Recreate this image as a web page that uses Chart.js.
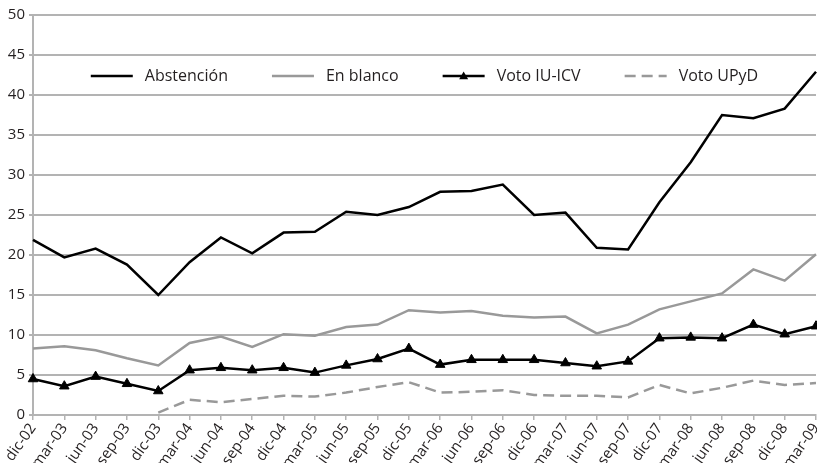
<!DOCTYPE html>
<html>
<head>
<meta charset="utf-8">
<script src="https://cdn.jsdelivr.net/npm/chart.js@4.4.0/dist/chart.umd.min.js"></script>
<style>
  html, body { margin: 0; padding: 0; background: #fff; }
  #wrap { width: 817px; height: 463px; }
</style>
</head>
<body>
<div id="wrap"><canvas id="votoChart" width="817" height="463"></canvas></div>
<script>
// Trimestres
const quarters = ['dic-02', 'mar-03', 'jun-03', 'sep-03', 'dic-03', 'mar-04', 'jun-04', 'sep-04', 'dic-04',
  'mar-05', 'jun-05', 'sep-05', 'dic-05', 'mar-06', 'jun-06', 'sep-06', 'dic-06', 'mar-07', 'jun-07',
  'sep-07', 'dic-07', 'mar-08', 'jun-08', 'sep-08', 'dic-08', 'mar-09'];

const abstencion = [21.9, 19.7, 20.8, 18.8, 15.0, 19.1, 22.2, 20.2, 22.8, 22.9, 25.4, 25.0, 26.0,
  27.9, 28.0, 28.8, 25.0, 25.3, 20.9, 20.7, 26.6, 31.6, 37.5, 37.1, 38.3, 42.9];

const enBlanco = [8.3, 8.6, 8.1, 7.1, 6.2, 9.0, 9.8, 8.5, 10.1, 9.9, 11.0, 11.3, 13.1,
  12.8, 13.0, 12.4, 12.2, 12.3, 10.2, 11.3, 13.2, 14.2, 15.2, 18.2, 16.8, 20.1];

const votoIU = [4.5, 3.6, 4.8, 3.9, 3.0, 5.6, 5.9, 5.6, 5.9, 5.3, 6.2, 7.0, 8.3,
  6.3, 6.9, 6.9, 6.9, 6.5, 6.1, 6.7, 9.6, 9.7, 9.6, 11.3, 10.1, 11.1];

// UPyD empieza en dic-03
const votoUPyD = [null, null, null, null, 0.3, 1.9, 1.6, 2.0, 2.4, 2.3, 2.8, 3.5, 4.1,
  2.8, 2.9, 3.1, 2.5, 2.4, 2.4, 2.2, 3.75, 2.7, 3.4, 4.3, 3.75, 4.0];

const yTicks = [0, 5, 10, 15, 20, 25, 30, 35, 40, 45, 50];

const FONT = "'Open Sans', sans-serif";
const TEXT = '#231f20';
const GRID = '#b3b3b3';

// legend drawn inside the plot area, centred, like the original
const insideLegend = {
  id: 'insideLegend',
  afterDatasetsDraw(chart) {
    const ctx = chart.ctx;
    const area = chart.chartArea;
    const lineLen = 42, gapText = 12, gapItem = 44;
    ctx.save();
    ctx.font = '16px ' + FONT;
    const items = chart.data.datasets.map(ds => ({ ds, w: ctx.measureText(ds.label).width }));
    const total = items.reduce((s, it) => s + lineLen + gapText + it.w, 0) + gapItem * (items.length - 1);
    let x = (area.left + area.right) / 2 - total / 2;
    const y = 76;
    items.forEach(({ ds, w }) => {
      ctx.strokeStyle = ds.borderColor;
      ctx.lineWidth = ds.borderWidth;
      ctx.setLineDash(ds.borderDash || []);
      ctx.beginPath();
      ctx.moveTo(x, y);
      ctx.lineTo(x + lineLen, y);
      ctx.stroke();
      ctx.setLineDash([]);
      if (ds.pointRadius > 0) {
        const cx = x + lineLen / 2, r = 4.5;
        ctx.fillStyle = ds.borderColor;
        ctx.beginPath();
        ctx.moveTo(cx, y - r);
        ctx.lineTo(cx + r, y + r * 0.7);
        ctx.lineTo(cx - r, y + r * 0.7);
        ctx.closePath();
        ctx.fill();
      }
      ctx.fillStyle = TEXT;
      ctx.textBaseline = 'middle';
      ctx.textAlign = 'left';
      ctx.fillText(ds.label, x + lineLen + gapText, y);
      x += lineLen + gapText + w + gapItem;
    });
    ctx.restore();
  }
};

new Chart(document.getElementById('votoChart'), {
  type: 'line',
  data: {
    labels: quarters,
    datasets: [
      {
        label: 'Abstención',
        data: abstencion,
        borderColor: '#000000',
        borderWidth: 2.5,
        pointRadius: 0,
        tension: 0
      },
      {
        label: 'En blanco',
        data: enBlanco,
        borderColor: '#999999',
        borderWidth: 2.5,
        pointRadius: 0,
        tension: 0
      },
      {
        label: 'Voto IU-ICV',
        data: votoIU,
        borderColor: '#000000',
        backgroundColor: '#000000',
        borderWidth: 2.5,
        pointStyle: 'triangle',
        pointRadius: 5.5,
        pointBorderWidth: 1,
        tension: 0
      },
      {
        label: 'Voto UPyD',
        data: votoUPyD,
        borderColor: '#999999',
        borderWidth: 2.5,
        borderDash: [11, 6],
        pointRadius: 0,
        tension: 0
      }
    ]
  },
  options: {
    responsive: false,
    animation: false,
    layout: { autoPadding: false, padding: { top: 15, right: 1, left: 0, bottom: 0 } },
    plugins: {
      legend: { display: false },
      tooltip: { enabled: false }
    },
    scales: {
      x: {
        offset: false,
        grid: {
          drawOnChartArea: false,
          drawTicks: true,
          tickLength: 5,
          color: GRID,
          lineWidth: 1.5
        },
        border: { color: GRID, width: 2 },
        ticks: {
          color: TEXT,
          font: { family: FONT, size: 15 },
          minRotation: 55,
          maxRotation: 55,
          autoSkip: false,
          padding: 0
        },
        afterFit: (scale) => {
          scale.height = 48;
          scale.paddingLeft = 0;
          scale.paddingRight = 0;
        }
      },
      y: {
        min: 0,
        max: 50,
        afterBuildTicks: (scale) => { scale.ticks = yTicks.map(v => ({ value: v })); },
        grid: {
          color: GRID,
          lineWidth: 2,
          tickLength: 4
        },
        border: { color: GRID, width: 2 },
        ticks: {
          color: TEXT,
          font: { family: FONT, size: 15 },
          padding: 4
        },
        afterFit: (scale) => { scale.width = 33; }
      }
    }
  },
  plugins: [insideLegend]
});
</script>
</body>
</html>
